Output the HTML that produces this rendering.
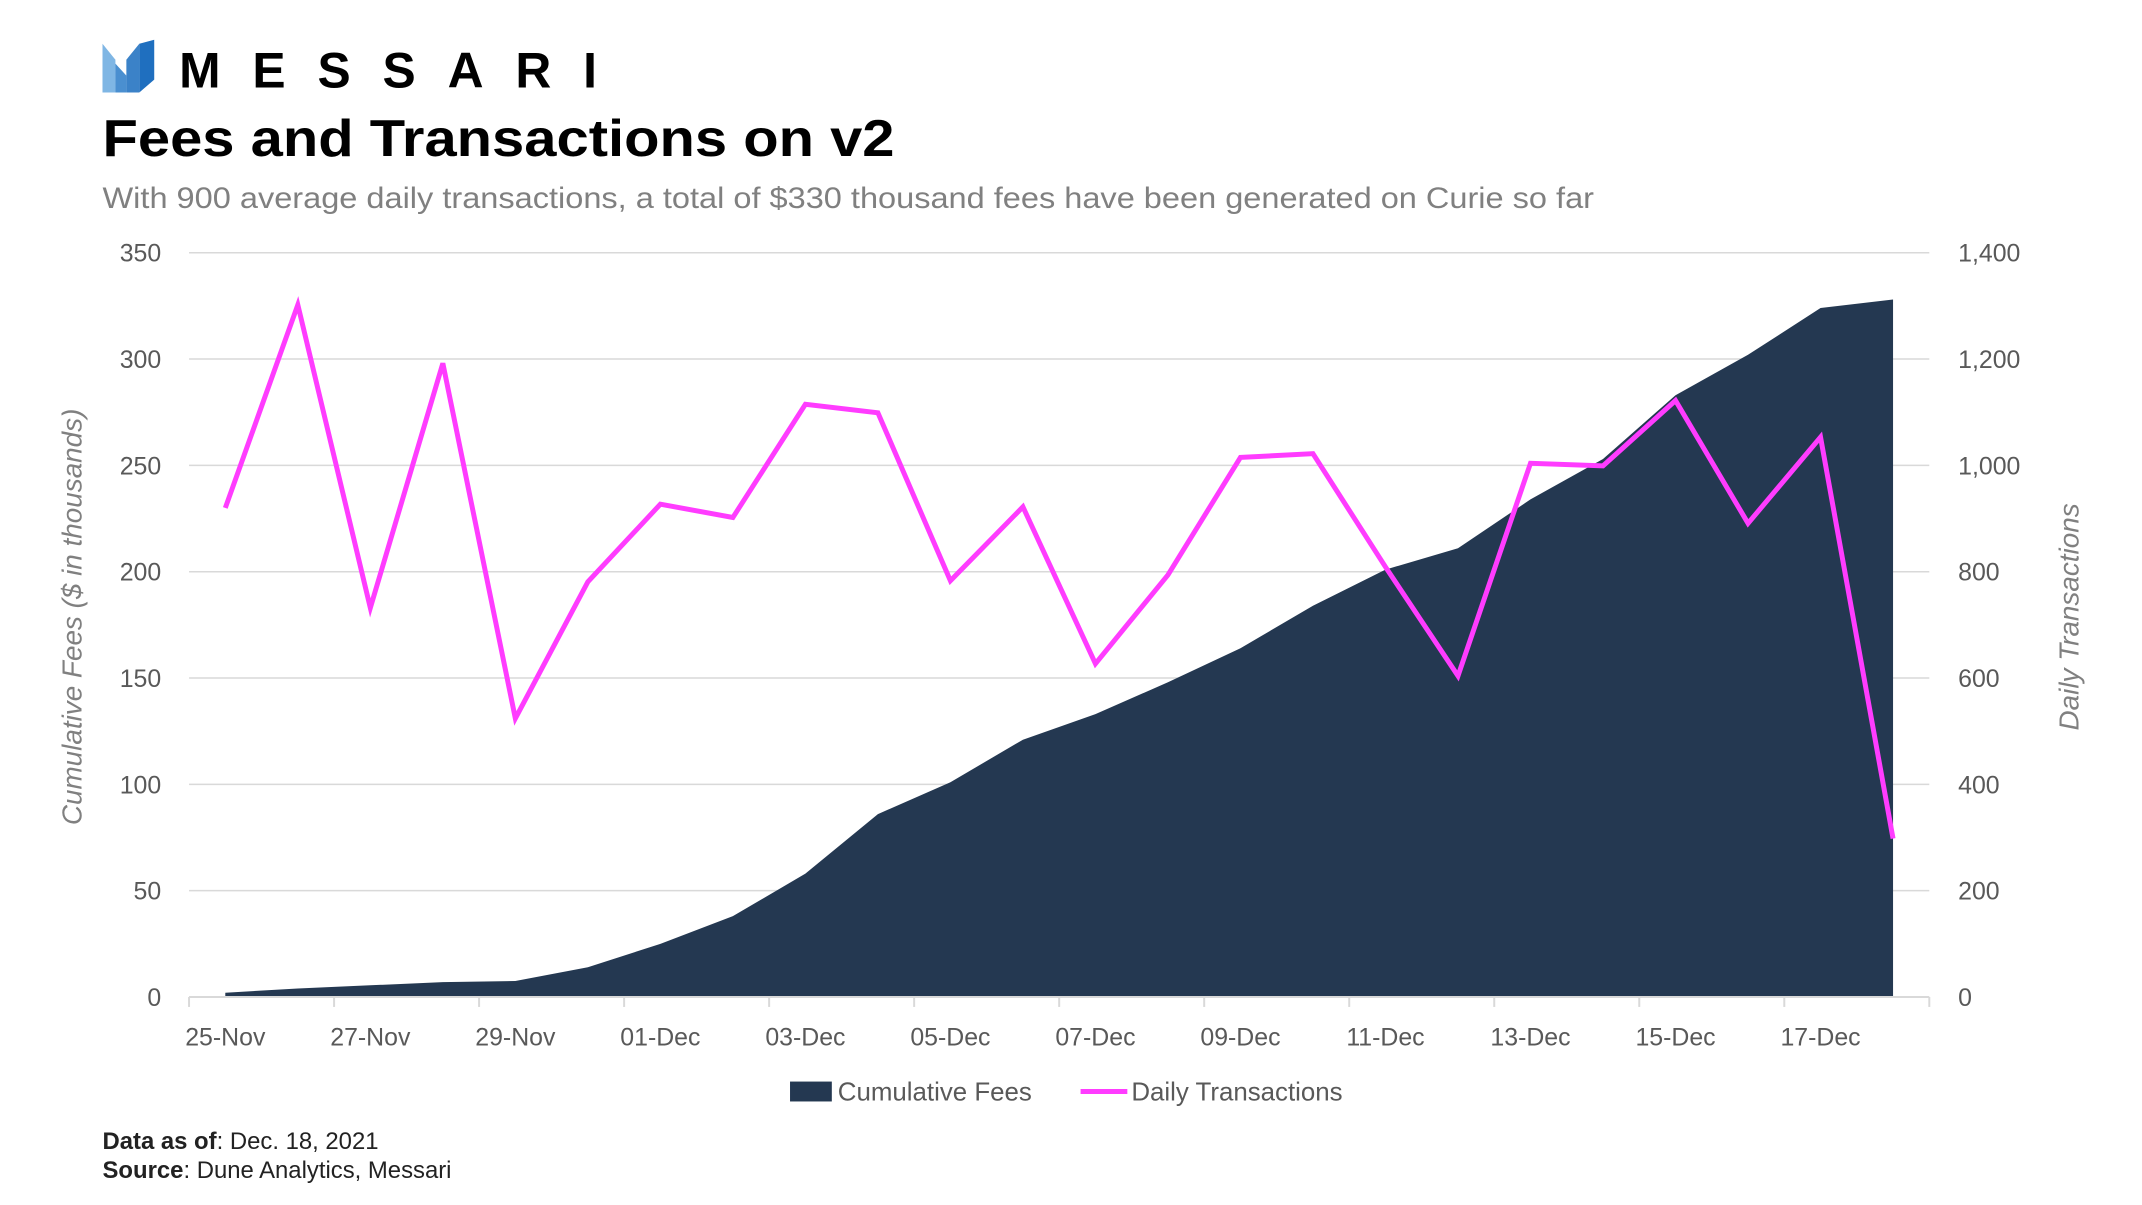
<!DOCTYPE html>
<html><head><meta charset="utf-8">
<style>
html,body{margin:0;padding:0;background:#fff;}
svg{display:block;font-family:"Liberation Sans",sans-serif;}
</style></head>
<body>
<svg id="chart" width="2142" height="1205" viewBox="0 0 2142 1205" xmlns="http://www.w3.org/2000/svg">
<g transform="scale(0.995)">
  <g>
    <polygon points="103,44 116,60 116,93 103,93" fill="#7fb6e4"/>
    <polygon points="116,64 127,76 127,93 116,93" fill="#4a8fd0"/>
    <polygon points="127,60 140,44 140,93 127,93" fill="#3b82c8"/>
    <polygon points="140,44 155,40 155,80 140,93" fill="#1f6fbf"/>
    <text x="180" y="88" font-size="50" font-weight="bold" fill="#000" textLength="420" lengthAdjust="spacing">MESSARI</text>
  </g>
  <text x="103" y="157" font-size="52" font-weight="bold" fill="#000" textLength="796" lengthAdjust="spacingAndGlyphs">Fees and Transactions on v2</text>
  <text x="103" y="209" font-size="30" fill="#808080" textLength="1499" lengthAdjust="spacingAndGlyphs">With 900 average daily transactions, a total of $330 thousand fees have been generated on Curie so far</text>
  <g id="grid"></g>
  <g id="area"></g>
  <g id="line"></g>
  <g id="axes"></g>
  <text transform="translate(82,620) rotate(-90)" text-anchor="middle" font-size="28" font-style="italic" fill="#808080">Cumulative Fees ($ in thousands)</text>
  <text transform="translate(2089,620) rotate(-90)" text-anchor="middle" font-size="28" font-style="italic" fill="#808080">Daily Transactions</text>
  <g>
    <rect x="794" y="1087" width="42" height="20" fill="#243851"/>
    <text x="842" y="1106" font-size="26" fill="#595959">Cumulative Fees</text>
    <line x1="1086" y1="1097" x2="1133" y2="1097" stroke="#ff3cff" stroke-width="5"/>
    <text x="1137" y="1106" font-size="26" fill="#595959">Daily Transactions</text>
  </g>
  <text x="103" y="1155" font-size="24" fill="#222"><tspan font-weight="bold">Data as of</tspan>: Dec. 18, 2021</text>
  <text x="103" y="1184" font-size="24" fill="#222"><tspan font-weight="bold">Source</tspan>: Dune Analytics, Messari</text>
</g>
</svg>
<script>
const categories = ["25-Nov","26-Nov","27-Nov","28-Nov","29-Nov","30-Nov","01-Dec","02-Dec","03-Dec","04-Dec","05-Dec","06-Dec","07-Dec","08-Dec","09-Dec","10-Dec","11-Dec","12-Dec","13-Dec","14-Dec","15-Dec","16-Dec","17-Dec","18-Dec"];
const cumulativeFees = [2,4,5.5,7,7.5,14,25,38,58,86,101,121,133,148,164,184,201,211,234,253,283,302,324,328];
const dailyTransactions = [920,1302,732,1192,524,781,927,902,1115,1099,783,922,627,794,1015,1022,809,604,1004,999,1122,891,1053,298];
const leftTicks = [0,50,100,150,200,250,300,350];
const rightTickLabels = ["0","200","400","600","800","1,000","1,200","1,400"];
const rightTicks = [0,200,400,600,800,1000,1200,1400];

const NS = "http://www.w3.org/2000/svg";
const X0 = 190, X1 = 1939, Y0 = 1002, Y1 = 254;
const band = (X1 - X0) / categories.length;
const xPos = i => X0 + band * (i + 0.5);
const yLeft = v => Y0 - (v / 350) * (Y0 - Y1);
const yRight = v => Y0 - (v / 1400) * (Y0 - Y1);
function mk(tag, attrs, parent) {
  const el = document.createElementNS(NS, tag);
  for (const k in attrs) el.setAttribute(k, attrs[k]);
  parent.appendChild(el);
  return el;
}
const grid = document.getElementById("grid");
const axes = document.getElementById("axes");
leftTicks.forEach((t, i) => {
  const y = yLeft(t);
  if (t > 0) {
    const g = mk("line", {x1: X0, x2: X1, y1: y, y2: y, stroke: "#d9d9d9", "stroke-width": 1.5}, grid);
    
    
  }
  const lt = mk("text", {x: 162, y: y + 9, "text-anchor": "end", "font-size": 25, fill: "#595959"}, axes);
  lt.textContent = t;
  
  
});
rightTicks.forEach((t, i) => {
  const rt = mk("text", {x: 1968, y: yRight(t) + 9, "font-size": 25, fill: "#595959"}, axes);
  rt.textContent = rightTickLabels[i];
  
  
});
let d = `M${xPos(0)},${Y0}`;
cumulativeFees.forEach((v, i) => { d += ` L${xPos(i)},${yLeft(v)}`; });
d += ` L${xPos(cumulativeFees.length - 1)},${Y0} Z`;
const area = mk("path", {d: d, fill: "#243851"}, document.getElementById("area"));


const pts = dailyTransactions.map((v, i) => `${xPos(i)},${yRight(v)}`).join(" ");
const line = mk("polyline", {points: pts, fill: "none", stroke: "#ff3cff", "stroke-width": 5, "stroke-linejoin": "miter"}, document.getElementById("line"));


const ax = mk("line", {x1: X0, x2: X1, y1: Y0, y2: Y0, stroke: "#d9d9d9", "stroke-width": 2}, axes);


for (let i = 0; i <= categories.length; i += 2) {
  const x = X0 + band * i;
  const tk = mk("line", {x1: x, x2: x, y1: Y0, y2: Y0 + 10, stroke: "#d9d9d9", "stroke-width": 2}, axes);
  
  
}
categories.forEach((c, i) => {
  if (i % 2 !== 0) return;
  const xl = mk("text", {x: xPos(i), y: 1051, "text-anchor": "middle", "font-size": 25, fill: "#595959"}, axes);
  xl.textContent = c;
  
  
});
</script>
</body></html>
